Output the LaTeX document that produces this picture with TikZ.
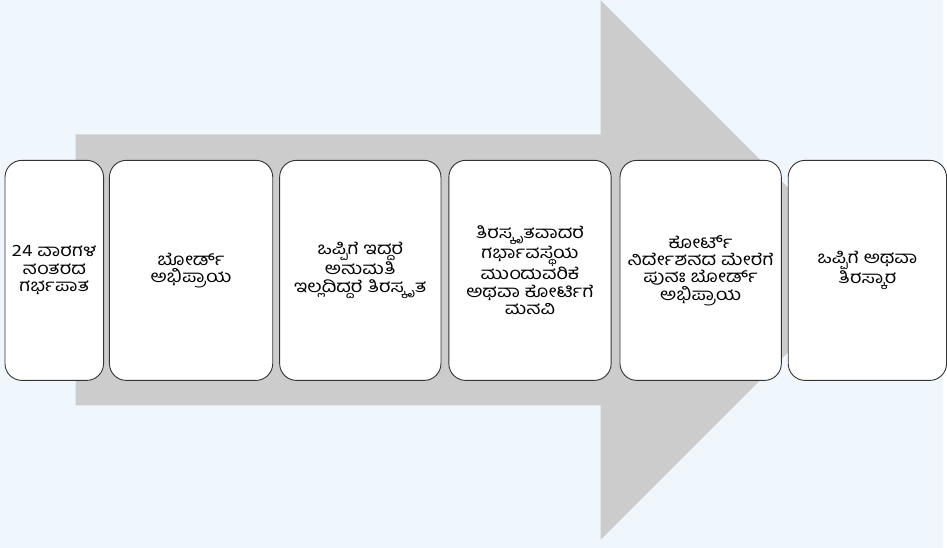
\documentclass[tikz,border=0pt]{standalone}
\usepackage{fontspec}
\newfontfamily\kannada[Script=Kannada, FakeStretch=1.18]{Hind Mysuru}
\usetikzlibrary{positioning}
\definecolor{bgblue}{HTML}{EFF6FC}
\definecolor{arrowgray}{HTML}{CCCCCC}
\definecolor{boxline}{HTML}{333333}

\begin{document}
\begin{tikzpicture}[x=1pt, y=-1pt,
    stage/.style={draw=boxline, fill=white, line width=0.9pt, rounded corners=17pt,
      minimum height=221pt, inner sep=0pt, align=center,
      font=\kannada\fontsize{17}{17.5}\selectfont}]

  \fill[bgblue] (0,0) rectangle (947,550);

  % big arrow behind the steps
  \fill[arrowgray] (76,135) -- (603,135) -- (603,0) -- (874,271)
    -- (603,542) -- (603,407) -- (76,407) -- cycle;

  \node[stage, minimum width=99pt] (s1) at (54.5,271.5) {24 ವಾರಗಳ\\ನಂತರದ\\ಗರ್ಭಪಾತ};
  \node[stage, minimum width=164pt, right=5pt of s1] (s2) {ಬೋರ್ಡ್\\ಅಭಿಪ್ರಾಯ};
  \node[stage, minimum width=162pt, right=6pt of s2] (s3) {ಒಪ್ಪಿಗೆ ಇದ್ದರೆ\\ಅನುಮತಿ\\ಇಲ್ಲದಿದ್ದರೆ ತಿರಸ್ಕೃತ};
  \node[stage, minimum width=163pt, right=7pt of s3] (s4) {ತಿರಸ್ಕೃತವಾದರೆ\\ಗರ್ಭಾವಸ್ಥೆಯ\\ಮುಂದುವರಿಕೆ\\ಅಥವಾ ಕೋರ್ಟಿಗೆ\\ಮನವಿ};
  \node[stage, minimum width=162pt, right=8pt of s4] (s5) {ಕೋರ್ಟ್\\ನಿರ್ದೇಶನದ ಮೇರೆಗೆ\\ಪುನಃ ಬೋರ್ಡ್\\ಅಭಿಪ್ರಾಯ};
  \node[stage, minimum width=159pt, right=6pt of s5] (s6) {ಒಪ್ಪಿಗೆ ಅಥವಾ\\ತಿರಸ್ಕಾರ};

\end{tikzpicture}
\end{document}
